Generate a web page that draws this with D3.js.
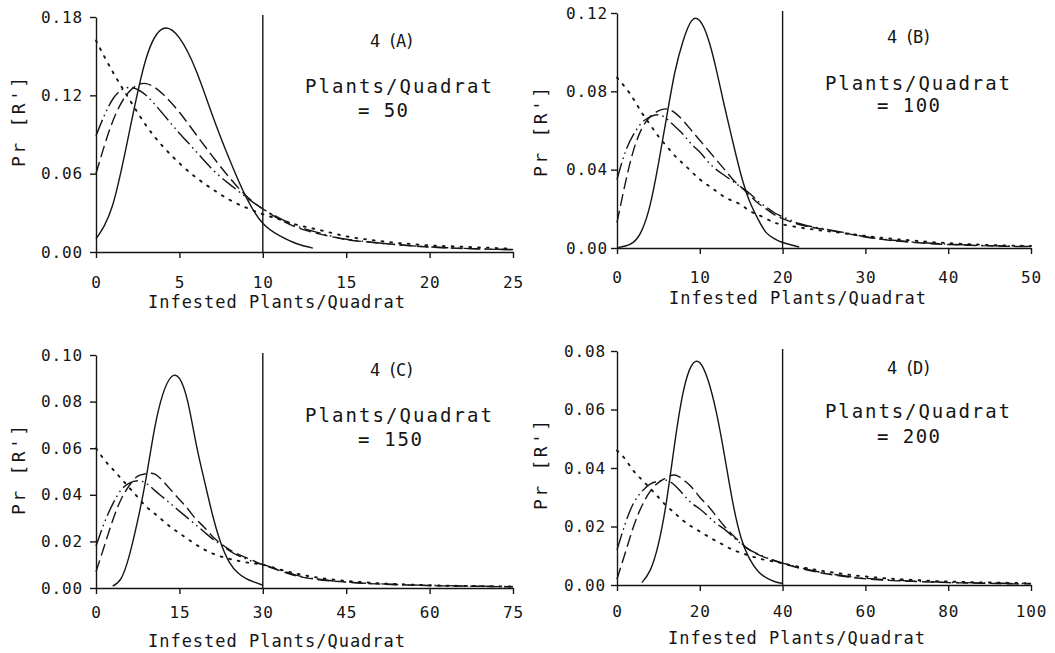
<!DOCTYPE html>
<html>
<head>
<meta charset="utf-8">
<script src="https://cdn.jsdelivr.net/npm/d3@7"></script>
<style>
  html, body { margin: 0; padding: 0; background: #fff; }
  svg { display: block; }
  text { font-family: "DejaVu Sans Mono", "Liberation Mono", monospace; fill: #151515; }
</style>
</head>
<body>
<svg id="chart" width="1055" height="653"></svg>
<script>
// ---------------- DATA ----------------
const panelIds = ["4 (A)", "4 (B)", "4 (C)", "4 (D)"];
const plantsPerQuadrat = [50, 100, 150, 200];
const xMaxes = [25, 50, 75, 100];
const yMaxes = [0.18, 0.12, 0.10, 0.08];
const cutoffs = [10, 20, 30, 40];

const xTicksA = [0, 5, 10, 15, 20, 25];
const xTicksB = [0, 10, 20, 30, 40, 50];
const xTicksC = [0, 15, 30, 45, 60, 75];
const xTicksD = [0, 20, 40, 60, 80, 100];
const yTicksA = [0, 0.06, 0.12, 0.18];
const yTicksB = [0, 0.04, 0.08, 0.12];
const yTicksC = [0, 0.02, 0.04, 0.06, 0.08, 0.10];
const yTicksD = [0, 0.02, 0.04, 0.06, 0.08];

// Panel A
const xA = [0,1,2,3,4,5,6,7,8,9,10,11,12,13,14,15,16,17,18,19,20,21,22,23,24,25];
const solidA = [0.010,0.036,0.092,0.148,0.171,0.164,0.139,0.104,0.071,0.042,0.022,0.0125,0.0065,0.003,null,null,null,null,null,null,null,null,null,null,null,null];
const dashA = [0.060,0.100,0.123,0.129,0.121,0.107,0.090,0.073,0.057,0.043,0.033,0.025,0.019,0.015,0.012,0.0095,0.008,0.0068,0.0056,0.0046,0.0038,0.0032,0.0027,0.0023,0.002,0.0018];
const dashDotA = [0.089,0.117,0.126,0.120,0.106,0.091,0.077,0.063,0.052,0.042,0.033,0.026,0.020,0.016,0.0125,0.0098,0.0082,0.0069,0.0057,0.0047,0.0039,0.0033,0.0028,0.0024,0.0021,0.0019];
const dotA = [0.162,0.138,0.117,0.097,0.081,0.068,0.057,0.048,0.040,0.034,0.029,0.025,0.021,0.018,0.015,0.012,0.010,0.0085,0.007,0.006,0.005,0.0045,0.004,0.0035,0.003,0.0025];

// Panel B
const xB = [0,1,2,3,4,5,6,7,8,9,10,11,12,13,14,15,16,17,18,19,20,22,24,26,28,30,32,34,36,38,40,42,44,46,48,50];
const solidB = [0,0.001,0.003,0.009,0.022,0.043,0.067,0.090,0.106,0.116,0.116,0.107,0.091,0.072,0.054,0.037,0.024,0.015,0.008,0.0048,0.0028,0.0005,null,null,null,null,null,null,null,null,null,null,null,null,null,null];
const dashB = [0.013,0.033,0.050,0.061,0.067,0.070,0.071,0.069,0.065,0.060,0.055,0.050,0.045,0.040,0.035,0.031,0.027,0.023,0.020,0.017,0.015,0.012,0.0102,0.0088,0.0072,0.0056,0.0044,0.0035,0.0028,0.0022,0.0018,0.0015,0.0012,0.001,0.0008,0.0007];
const dashDotB = [0.035,0.049,0.058,0.064,0.067,0.068,0.066,0.062,0.058,0.053,0.049,0.044,0.040,0.037,0.034,0.031,0.028,0.024,0.021,0.018,0.016,0.0125,0.0105,0.009,0.0074,0.0058,0.0046,0.0037,0.003,0.0024,0.002,0.0016,0.0013,0.0011,0.0009,0.0008];
const dotB = [0.087,0.082,0.076,0.069,0.063,0.057,0.052,0.047,0.043,0.039,0.035,0.032,0.029,0.026,0.024,0.022,0.019,0.017,0.015,0.013,0.012,0.0105,0.0093,0.0083,0.0072,0.0062,0.0052,0.0044,0.0037,0.003,0.0025,0.002,0.0017,0.0014,0.0012,0.001];

// Panel C
const xC = [0,1.5,3,4.5,6,7.5,9,10.5,12,13.5,15,16.5,18,19.5,21,22.5,24,25.5,27,28.5,30,33,36,39,42,45,48,51,54,57,60,63,66,69,72,75];
const solidC = [null,null,0.0008,0.004,0.014,0.029,0.047,0.068,0.083,0.0905,0.090,0.080,0.062,0.046,0.031,0.019,0.011,0.0065,0.004,0.0025,0.0012,null,null,null,null,null,null,null,null,null,null,null,null,null,null,null];
const dashC = [0.007,0.018,0.029,0.038,0.044,0.048,0.049,0.049,0.046,0.042,0.038,0.034,0.0295,0.026,0.022,0.019,0.0165,0.0145,0.013,0.0115,0.010,0.0075,0.0052,0.0039,0.0031,0.0025,0.002,0.0017,0.0014,0.0012,0.001,0.0009,0.0008,0.0007,0.0006,0.0005];
const dashDotC = [0.018,0.028,0.036,0.042,0.045,0.046,0.045,0.042,0.039,0.036,0.033,0.030,0.027,0.024,0.021,0.0185,0.016,0.014,0.0125,0.011,0.010,0.0078,0.0055,0.0041,0.0032,0.0026,0.0021,0.0018,0.0015,0.0013,0.0011,0.001,0.0009,0.0008,0.0007,0.0006];
const dotC = [0.060,0.055,0.051,0.047,0.043,0.039,0.035,0.032,0.029,0.026,0.0235,0.021,0.0186,0.0165,0.0148,0.0135,0.0125,0.0117,0.011,0.0105,0.010,0.008,0.0062,0.0048,0.0038,0.003,0.0025,0.002,0.0017,0.0014,0.0012,0.001,0.0009,0.0008,0.0007,0.0006];

// Panel D
const xD = [0,2,4,6,8,10,12,14,16,18,20,22,24,26,28,30,32,34,36,38,40,44,48,52,56,60,64,68,72,76,80,84,88,92,96,100];
const solidD = [null,null,null,0.0008,0.005,0.014,0.029,0.049,0.066,0.075,0.076,0.070,0.059,0.044,0.028,0.016,0.009,0.0048,0.0025,0.0012,0.0005,null,null,null,null,null,null,null,null,null,null,null,null,null,null,null];
const dashD = [0.002,0.011,0.020,0.027,0.032,0.035,0.0368,0.0376,0.036,0.0335,0.030,0.027,0.0235,0.020,0.017,0.0143,0.012,0.0105,0.0093,0.0083,0.0074,0.0058,0.0045,0.0035,0.0027,0.0021,0.0017,0.0014,0.0012,0.001,0.0008,0.0007,0.0006,0.0005,0.0004,0.0004];
const dashDotD = [0.012,0.021,0.028,0.032,0.0345,0.0355,0.0358,0.034,0.031,0.028,0.026,0.0235,0.021,0.019,0.0165,0.014,0.012,0.0106,0.0094,0.0084,0.0075,0.006,0.0047,0.0037,0.0029,0.0023,0.0019,0.0016,0.0013,0.0011,0.0009,0.0008,0.0007,0.0006,0.0005,0.0005];
const dotD = [0.046,0.043,0.039,0.036,0.033,0.030,0.027,0.0245,0.022,0.020,0.0183,0.0166,0.015,0.0135,0.012,0.011,0.010,0.0092,0.0085,0.008,0.0074,0.0062,0.0052,0.0043,0.0035,0.0029,0.0024,0.002,0.0017,0.0014,0.0012,0.001,0.0009,0.0008,0.0007,0.0006];

const xTitle = "Infested Plants/Quadrat";
const yTitle = "Pr [R']";
const subtitle = "Plants/Quadrat";

// ---------------- LAYOUT (pixels) ----------------
const panels = [
  { x: xA, s: [solidA, dashA, dashDotA, dotA], xt: xTicksA, yt: yTicksA,
    L: 96, R: 513, T: 17, B: 252, yPad: 8, xPad: 20,
    xTitleX: 148, xTitleY: 308, yTitleX: 19, yTitleY: 122,
    idX: 370, idY: 47, subX: 305, subW: 187, subY: 93, eqX: 358, eqW: 50, eqY: 117 },
  { x: xB, s: [solidB, dashB, dashDotB, dotB], xt: xTicksB, yt: yTicksB,
    L: 617, R: 1031, T: 13, B: 248, yPad: 4, xPad: 19,
    xTitleX: 669, xTitleY: 304, yTitleX: 541, yTitleY: 132,
    idX: 887, idY: 43, subX: 825, subW: 185, subY: 90, eqX: 877, eqW: 63, eqY: 112 },
  { x: xC, s: [solidC, dashC, dashDotC, dotC], xt: xTicksC, yt: yTicksC,
    L: 96, R: 513, T: 355, B: 588, yPad: 8, xPad: 14,
    xTitleX: 148, xTitleY: 647, yTitleX: 19, yTitleY: 470,
    idX: 370, idY: 376, subX: 305, subW: 187, subY: 422, eqX: 358, eqW: 64, eqY: 446 },
  { x: xD, s: [solidD, dashD, dashDotD, dotD], xt: xTicksD, yt: yTicksD,
    L: 617, R: 1031, T: 351, B: 585, yPad: 6, xPad: 16,
    xTitleX: 668, xTitleY: 644, yTitleX: 541, yTitleY: 465,
    idX: 887, idY: 374, subX: 825, subW: 185, subY: 418, eqX: 877, eqW: 63, eqY: 443 }
];

const styles = [
  { dash: null, w: 1.4 },
  { dash: "12,5", w: 1.4 },
  { dash: "17,4,1.6,4,1.6,4", w: 1.4 },
  { dash: "1.8,7", w: 1.9 }
];

const ink = "#151515";
const svg = d3.select("#chart");

panels.forEach((p, i) => {
  const g = svg.append("g");
  const xs = d3.scaleLinear().domain([0, xMaxes[i]]).range([p.L, p.R]);
  const ys = d3.scaleLinear().domain([0, yMaxes[i]]).range([p.B, p.T]);

  const xAxis = g.append("g").attr("transform", `translate(0,${p.B})`)
    .call(d3.axisBottom(xs).tickValues(p.xt).tickSize(6).tickSizeOuter(0).tickPadding(p.xPad - 1).tickFormat(d3.format("d")));
  const yAxis = g.append("g").attr("transform", `translate(${p.L},0)`)
    .call(d3.axisLeft(ys).tickValues(p.yt).tickSize(6).tickSizeOuter(0).tickPadding(p.yPad).tickFormat(d3.format(".2f")));

  [xAxis, yAxis].forEach(a => {
    a.attr("font-family", null).attr("font-size", null);
    a.selectAll("path, line").attr("stroke", ink).attr("stroke-width", 1.4);
    a.selectAll("text").attr("font-size", 16).style("letter-spacing", "0.8px").attr("fill", ink);
  });
  yAxis.selectAll("text").attr("dx", "0.8px");

  g.append("line")
    .attr("x1", xs(cutoffs[i])).attr("x2", xs(cutoffs[i]))
    .attr("y1", ys(yMaxes[i]) - 2).attr("y2", ys(0))
    .attr("stroke", ink).attr("stroke-width", 1.4);

  p.s.forEach((vals, k) => {
    const pts = p.x.map((xv, j) => [xv, vals[j]]);
    const line = d3.line()
      .defined(d => d[1] != null)
      .x(d => xs(d[0])).y(d => ys(d[1]))
      .curve(d3.curveNatural);
    const path = g.append("path")
      .datum(pts)
      .attr("d", line)
      .attr("fill", "none")
      .attr("stroke", ink)
      .attr("stroke-width", styles[k].w)
      .attr("stroke-linejoin", "round");
    if (styles[k].dash) path.attr("stroke-dasharray", styles[k].dash);
    if (k === 3) path.attr("stroke-linecap", "round");
  });

  g.append("text").attr("x", p.xTitleX).attr("y", p.xTitleY)
    .attr("font-size", 17).attr("textLength", 257).attr("lengthAdjust", "spacing")
    .text(xTitle);
  g.append("text")
    .attr("transform", `translate(${p.yTitleX},${p.yTitleY}) rotate(-90)`)
    .attr("text-anchor", "middle").attr("dy", "0.35em")
    .attr("font-size", 18).attr("textLength", 90).attr("lengthAdjust", "spacing")
    .text(yTitle);
  g.append("text").attr("x", p.idX).attr("y", p.idY)
    .attr("font-size", 17).attr("textLength", 45).attr("lengthAdjust", "spacing")
    .text(panelIds[i]);
  g.append("text").attr("x", p.subX).attr("y", p.subY)
    .attr("font-size", 19).attr("textLength", p.subW).attr("lengthAdjust", "spacing")
    .text(subtitle);
  g.append("text").attr("x", p.eqX).attr("y", p.eqY)
    .attr("font-size", 19).attr("textLength", p.eqW).attr("lengthAdjust", "spacing")
    .text("= " + plantsPerQuadrat[i]);
});
</script>
</body>
</html>
